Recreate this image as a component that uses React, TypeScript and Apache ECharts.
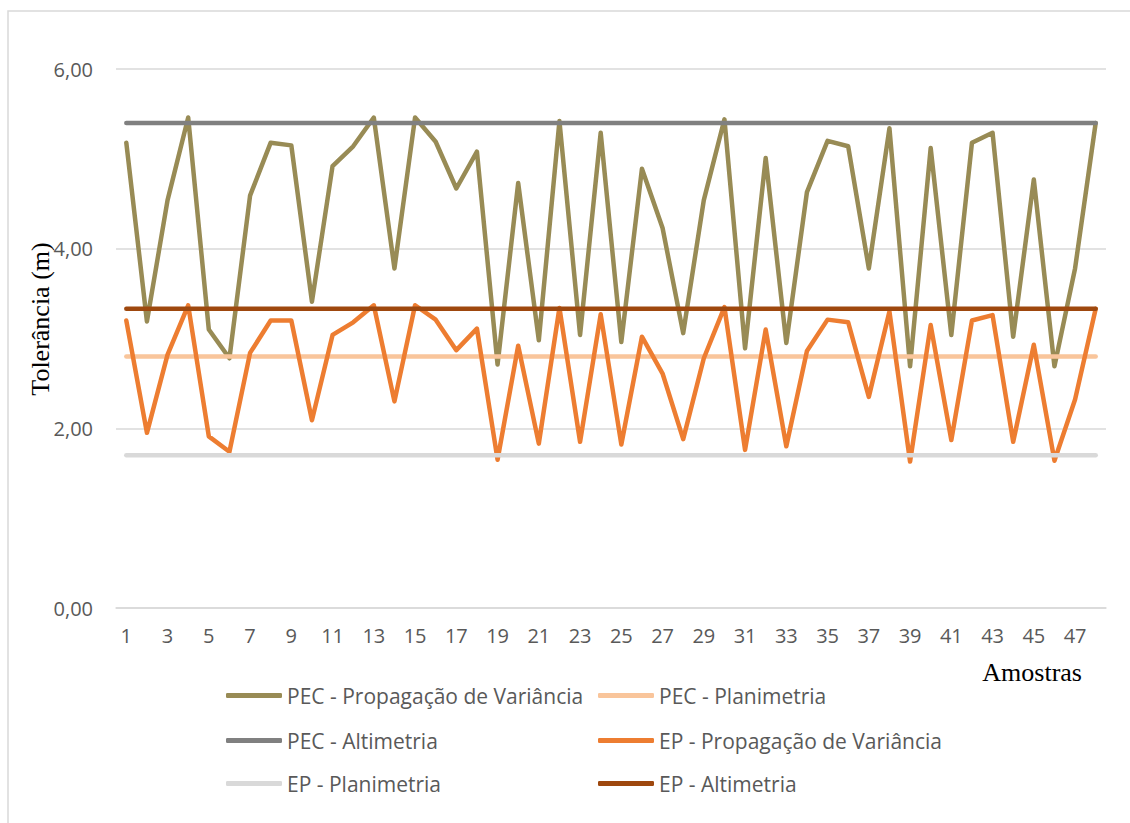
import React, { useEffect, useRef } from "react";
import * as echarts from "echarts";

const categories: string[] = Array.from({ length: 48 }, (_, i) => String(i + 1));

const pecPropagacao: number[] = [
  5.18, 3.19, 4.54, 5.46, 3.10, 2.78, 4.59, 5.18, 5.15, 3.41,
  4.92, 5.14, 5.46, 3.78, 5.46, 5.19, 4.67, 5.08, 2.71, 4.73,
  2.98, 5.42, 3.04, 5.29, 2.96, 4.89, 4.23, 3.06, 4.54, 5.44,
  2.89, 5.01, 2.95, 4.63, 5.20, 5.14, 3.78, 5.34, 2.69, 5.12,
  3.04, 5.18, 5.29, 3.02, 4.77, 2.69, 3.78, 5.40,
];

const epPropagacao: number[] = [
  3.20, 1.95, 2.82, 3.37, 1.91, 1.74, 2.84, 3.20, 3.20, 2.09,
  3.04, 3.18, 3.37, 2.30, 3.37, 3.21, 2.87, 3.11, 1.65, 2.92,
  1.83, 3.34, 1.85, 3.27, 1.82, 3.02, 2.61, 1.88, 2.78, 3.35,
  1.76, 3.10, 1.80, 2.86, 3.21, 3.18, 2.35, 3.30, 1.63, 3.15,
  1.87, 3.20, 3.26, 1.85, 2.93, 1.64, 2.32, 3.33,
];

const pecPlanimetriaValue = 2.8;
const pecAltimetriaValue = 5.4;
const epPlanimetriaValue = 1.7;
const epAltimetriaValue = 3.33;

const pecPlanimetria: number[] = categories.map(() => pecPlanimetriaValue);
const pecAltimetria: number[] = categories.map(() => pecAltimetriaValue);
const epPlanimetria: number[] = categories.map(() => epPlanimetriaValue);
const epAltimetria: number[] = categories.map(() => epAltimetriaValue);

const seriesNames: string[] = [
  "PEC - Propagação de Variância",
  "PEC - Planimetria",
  "PEC - Altimetria",
  "EP - Propagação de Variância",
  "EP - Planimetria",
  "EP - Altimetria",
];
const seriesColors: string[] = ["#988b55", "#f9c59b", "#808080", "#ed7d31", "#d9d9d9", "#9e480e"];
const seriesData: number[][] = [pecPropagacao, pecPlanimetria, pecAltimetria, epPropagacao, epPlanimetria, epAltimetria];

const yTicks = { min: 0, max: 6, interval: 2 };

export default function App() {
  const ref = useRef<HTMLDivElement>(null);
  useEffect(() => {
    if (!ref.current) return;
    const chart = echarts.init(ref.current, null, { renderer: "svg" });
    const legendPos = [
      { left: 226, top: 685 },
      { left: 598, top: 685 },
      { left: 226, top: 730 },
      { left: 598, top: 730 },
      { left: 226, top: 773 },
      { left: 598, top: 773 },
    ];
    chart.setOption({
      animation: false,
      backgroundColor: "#ffffff",
      grid: { left: 116, right: 24, top: 69, bottom: 215 },
      xAxis: {
        type: "category",
        data: categories,
        boundaryGap: true,
        axisLine: { show: true, lineStyle: { color: "#d9d9d9", width: 1.5 } },
        axisTick: { show: false },
        axisLabel: { interval: 1, color: "#595959", fontSize: 20, fontFamily: "Open Sans", margin: 17 },
        splitLine: { show: false },
      },
      yAxis: {
        type: "value",
        min: yTicks.min,
        max: yTicks.max,
        interval: yTicks.interval,
        axisLine: { show: false },
        axisTick: { show: false },
        axisLabel: {
          color: "#595959",
          fontSize: 20,
          fontFamily: "Open Sans",
          margin: 23,
          formatter: (v: number) => v.toFixed(2).replace(".", ","),
        },
        splitLine: { lineStyle: { color: "#d9d9d9", width: 1.5 } },
      },
      legend: seriesNames.map((name, i) => ({
        data: [name],
        left: legendPos[i].left,
        top: legendPos[i].top,
        icon: "roundRect",
        itemWidth: 56,
        itemHeight: 5,
        itemGap: 0,
        padding: 0,
        textStyle: { color: "#595959", fontSize: 21, fontFamily: "Open Sans" },
      })),
      series: seriesNames.map((name, i) => ({
        name,
        type: "line",
        data: seriesData[i],
        symbol: "none",
        lineStyle: { color: seriesColors[i], width: 4.5, cap: "round", join: "round" },
        itemStyle: { color: seriesColors[i] },
      })),
      graphic: [
        {
          type: "rect",
          shape: { x: 8, y: 11, width: 1200, height: 900 },
          style: { fill: "none", stroke: "#d9d9d9", lineWidth: 1.5 },
          silent: true,
        },
        {
          type: "text",
          x: 1082,
          y: 672,
          style: {
            text: "Amostras",
            font: '26px "Liberation Serif"',
            fill: "#000000",
            align: "right",
            verticalAlign: "middle",
          },
        },
        {
          type: "text",
          x: 40,
          y: 319,
          rotation: Math.PI / 2,
          style: {
            text: "Tolerância (m)",
            font: '26px "Liberation Serif"',
            fill: "#000000",
            align: "center",
            verticalAlign: "middle",
          },
        },
      ],
    });
    return () => chart.dispose();
  }, []);
  return <div ref={ref} style={{ position: "fixed", left: 0, top: 0, width: 1130, height: 823 }} />;
}
